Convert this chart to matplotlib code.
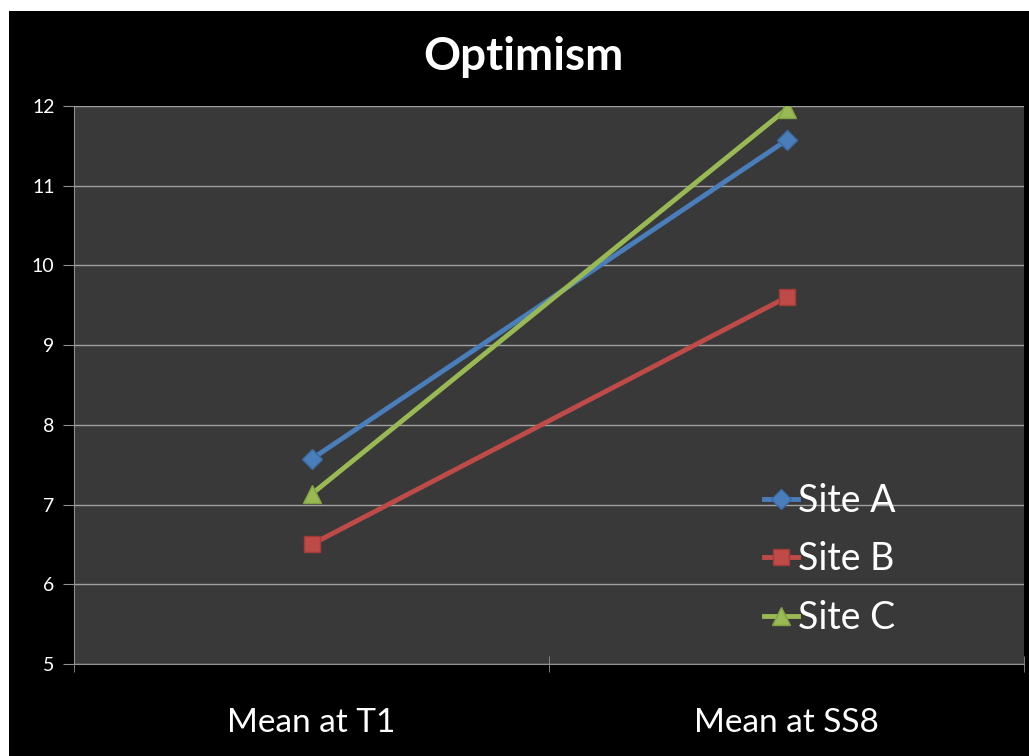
import numpy as np
import matplotlib.pyplot as plt
from matplotlib.patches import Rectangle

plt.rcParams['font.family'] = ['Lato', 'DejaVu Sans']

categories = ["Mean at T1", "Mean at SS8"]
site_a = [7.57, 11.57]
site_b = [6.50, 9.60]
site_c = [7.13, 11.96]
y_ticks = [5, 6, 7, 8, 9, 10, 11, 12]

fig = plt.figure(figsize=(10.29, 7.56), dpi=100, facecolor="black")
# thin white margin along the top and left edges
fig.patches.append(Rectangle((0, 1 - 11 / 756), 1, 11 / 756, transform=fig.transFigure,
                             facecolor="white", edgecolor="none", zorder=0))
fig.patches.append(Rectangle((0, 0), 9 / 1029, 1, transform=fig.transFigure,
                             facecolor="white", edgecolor="none", zorder=0))

ax = fig.add_axes([74 / 1029, 92 / 756, 950 / 1029, 558 / 756])
ax.set_facecolor("#393939")

x = np.arange(len(categories))
ax.plot(x, site_a, color="#4a7ebb", lw=3.5, marker="D", ms=10,
        mec="#3c6aa5", label="Site A", zorder=3)
ax.plot(x, site_b, color="#be4b48", lw=3.5, marker="s", ms=12,
        mec="#a33b38", label="Site B", zorder=3)
ax.plot(x, site_c, color="#98b954", lw=3.5, marker="^", ms=13,
        mec="#83a244", label="Site C", zorder=3)

ax.set_xlim(-0.5, len(categories) - 0.5)
ax.set_ylim(5, 12)
ax.set_yticks(y_ticks)
ax.yaxis.grid(True, color="#a0a0a0", lw=1)
ax.set_axisbelow(True)

ax.set_xticks(x)
ax.set_xticklabels(categories, color="white", fontsize=24)
ax.set_xticks(np.arange(-0.5, len(categories), 1.0), minor=True)
ax.tick_params(axis="x", which="major", length=0, pad=32)
ax.tick_params(axis="x", which="minor", length=12, color="#909090", direction="inout")
ax.tick_params(axis="y", length=8, color="#909090", labelcolor="white",
               labelsize=14, pad=6)

for side in ["top", "right"]:
    ax.spines[side].set_visible(False)
ax.spines["left"].set_color("#909090")
ax.spines["bottom"].set_color("#909090")

leg = ax.legend(loc="lower right", bbox_to_anchor=(0.90, -0.01), frameon=False,
                fontsize=27, handlelength=0.9, handletextpad=0.0,
                labelspacing=0.6, labelcolor="white")

fig.text(523 / 1029, 1 - 57 / 756, "Optimism", color="white", fontsize=33,
         fontweight="bold", ha="center", va="center")

fig.savefig("out.png", dpi=100, facecolor=fig.get_facecolor())
